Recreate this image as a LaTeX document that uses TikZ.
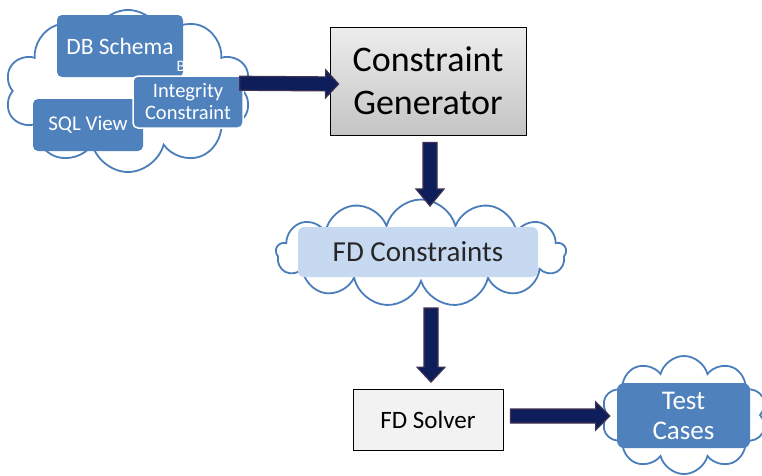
\documentclass[tikz,border=0pt]{standalone}
\usepackage{fontspec}
\setmainfont{Carlito}
\usetikzlibrary{shapes.symbols,calc}

\definecolor{boxblue}{HTML}{4F81BD}
\definecolor{cloudline}{HTML}{4A7EBB}
\definecolor{arrowfill}{HTML}{0E1E5B}
\definecolor{arrowedge}{HTML}{3F3151}
\definecolor{paleblue}{HTML}{C6D9F1}
\definecolor{gentop}{HTML}{EDEDED}
\definecolor{genbot}{HTML}{C4C4C4}
\definecolor{solverfill}{HTML}{F2F2F2}
\definecolor{darktext}{HTML}{262626}

\tikzset{
  puff/.style={cloud, cloud ignores aspect, draw=cloudline, line width=1.8pt,
    fill=white, inner sep=0pt},
  bluebox/.style={rectangle, rounded corners=5pt, fill=boxblue, text=white,
    align=center, inner sep=0pt},
  graybox/.style={rectangle, draw=black, line width=0.8pt, align=center,
    inner sep=0pt},
  fatarrow/.style={fill=arrowfill, draw=arrowedge, line width=1.2pt,
    line join=miter},
}

% block arrow from #1 to #2 with a head of length #3
\newcommand\fatarrow[3]{%
  \coordinate (hb) at ($(#2)!#3!(#1)$);
  \filldraw[fatarrow]
    ($(#1)!7pt!90:(#2)$) -- ($(hb)!7pt!90:(#2)$) -- ($(hb)!14pt!90:(#2)$)
    -- (#2)
    -- ($(hb)!14pt!-90:(#2)$) -- ($(hb)!7pt!-90:(#2)$) -- ($(#1)!7pt!-90:(#2)$)
    -- cycle;
}

\begin{document}
\begin{tikzpicture}[x=1pt, y=-1pt]
  \useasboundingbox (0,0) rectangle (762,475);
  \fill[white] (0,0) rectangle (762,475);

  % input cloud
  \node[puff, cloud puffs=10, minimum width=246pt, minimum height=162pt]
    (c1) at (128,91) {};
  \node[bluebox, minimum width=126pt, minimum height=62pt,
    font=\fontsize{23.5}{26}\selectfont] (db) at (120,46) {DB Schema};
  \node[text=white, inner sep=0pt, font=\fontsize{16}{16}\selectfont]
    (dbb) at (181,66) {B};
  \node[bluebox, minimum width=110pt, minimum height=52pt,
    font=\fontsize{21}{23}\selectfont] (sql) at (88,125) {SQL View};
  \node[bluebox, draw=white, line width=1.5pt, minimum width=110pt,
    minimum height=52pt, font=\fontsize{20.5}{22}\selectfont]
    (ic) at (188,102) {Integrity\\Constraint};

  % generator
  \node[graybox, top color=gentop, bottom color=genbot,
    minimum width=196pt, minimum height=108pt,
    font=\fontsize{36}{43}\selectfont] (gen) at (428,81)
    {Constraint\\Generator};

  % FD constraints cloud
  \node[puff, cloud puffs=13, minimum width=290pt, minimum height=107pt]
    (c2) at (421,253) {};
  \node[rectangle, rounded corners=6pt, fill=paleblue, text=darktext,
    minimum width=240pt, minimum height=50pt, inner sep=0pt,
    font=\fontsize{29}{32}\selectfont] (fdc) at (418,252) {FD Constraints};

  % solver
  \node[graybox, fill=solverfill, minimum width=150pt, minimum height=61pt,
    font=\fontsize{25}{28}\selectfont] (fds) at (428,420) {FD Solver};

  % output cloud
  \node[puff, cloud puffs=10, minimum width=165pt, minimum height=118pt]
    (c3) at (684,415) {};
  \node[bluebox, rounded corners=7pt, minimum width=133pt, minimum height=65pt,
    font=\fontsize{27}{30}\selectfont] (tc) at (683.5,415.5) {Test\\Cases};

  % connector end points
  \coordinate (a1s) at ($(ic.north east)+(-4,8)$);
  \coordinate (a1e) at ($(gen.west)+(9,3)$);
  \coordinate (a2s) at ($(gen.south)+(2,7)$);
  \coordinate (a2e) at ($(c2.center)+(9,-47)$);
  \coordinate (a3s) at ($(c2.center)+(10,55)$);
  \coordinate (a3e) at ($(fds.north)+(3,-7)$);
  \coordinate (a4s) at ($(fds.east)+(7,-4)$);
  \coordinate (a4e) at ($(tc.west)+(-7,0.5)$);

  \fatarrow{a1s}{a1e}{13pt}
  \fatarrow{a2s}{a2e}{17pt}
  \fatarrow{a3s}{a3e}{15pt}
  \fatarrow{a4s}{a4e}{14pt}
\end{tikzpicture}
\end{document}
